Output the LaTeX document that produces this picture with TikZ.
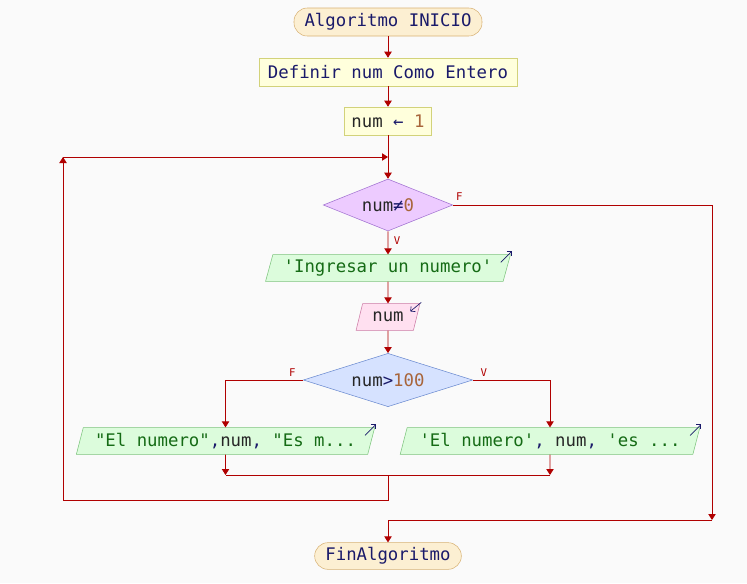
\documentclass[tikz,border=0pt]{standalone}
\usepackage{fontspec}
\setmonofont{DejaVu Sans Mono}
\usetikzlibrary{shapes.geometric,arrows.meta}
\definecolor{flowred}{HTML}{B00000}
\definecolor{kwnavy}{HTML}{1A1A6A}
\definecolor{strgreen}{HTML}{156B15}
\definecolor{numbrown}{HTML}{A8653A}
\definecolor{pillfill}{HTML}{FCEFD2}
\definecolor{pillline}{HTML}{D8B274}
\definecolor{boxfill}{HTML}{FFFFDC}
\definecolor{boxline}{HTML}{D2D27A}
\definecolor{lilafill}{HTML}{EDCBFF}
\definecolor{lilaline}{HTML}{A070D0}
\definecolor{outfill}{HTML}{DCFCDC}
\definecolor{outline}{HTML}{7CC47C}
\definecolor{infill}{HTML}{FFE0F0}
\definecolor{inline}{HTML}{CC7AA5}
\definecolor{bluefill}{HTML}{D6E2FF}
\definecolor{blueline}{HTML}{6A8AD0}
\begin{document}
\begin{tikzpicture}[x=0.75pt,y=-0.75pt,
    every node/.style={font=\ttfamily\fontsize{13}{15}\selectfont,inner sep=0pt},
    flow/.style={draw=flowred,line width=0.65pt},
    tip/.style={-{Triangle[length=4.5pt,width=5.5pt]}},
    pill/.style={draw=pillline,fill=pillfill,rounded corners=10pt,minimum height=21pt},
    procbox/.style={draw=boxline,fill=boxfill,minimum height=21pt},
    decide/.style={diamond,draw=#1line,fill=#1fill,aspect=2.4},
    outbox/.style={trapezium,trapezium left angle=68,trapezium right angle=112,
        trapezium stretches=true,draw=outline,fill=outfill,minimum height=20pt},
    inbox/.style={trapezium,trapezium left angle=68,trapezium right angle=112,
        trapezium stretches=true,draw=inline,fill=infill,minimum height=20pt},
    tag/.style={font=\ttfamily\fontsize{8}{9}\selectfont,text=flowred},
    icon/.style={draw=kwnavy,line width=0.5pt,-{Straight Barb[length=2.5pt]}}]
    \fill[white!98!black] (0,0) rectangle (747,583);
    \useasboundingbox (0,0) rectangle (747,583);
    % nodes
    \node[pill,minimum width=141pt] (start) at (388,22) {\textcolor{kwnavy}{Algoritmo INICIO}};
    \node[procbox,minimum width=193.5pt] (def) at (388,72) {\textcolor{kwnavy}{Definir num Como Entero}};
    \node[procbox,minimum width=65pt] (asg) at (388,121) {\textcolor{black!85}{num} \textcolor{kwnavy}{←} \textcolor{numbrown}{1}};
    \node[decide=lila,minimum width=97pt,minimum height=39pt] (cond) at (388,205) {\textcolor{black!85}{num}\textcolor{kwnavy}{≠}\textcolor{numbrown}{0}};
    \node[outbox,minimum width=184pt] (ask) at (388,268) {\textcolor{strgreen}{'Ingresar un numero'}};
    \node[inbox,minimum width=48pt] (read) at (388,317) {\textcolor{black!85}{num}};
    \node[decide=blue,minimum width=127pt,minimum height=40pt] (test) at (388,380) {\textcolor{black!85}{num}\textcolor{kwnavy}{>}\textcolor{numbrown}{100}};
    \node[outbox,minimum width=224pt] (less) at (225.5,441) {\textcolor{strgreen}{"El numero"}\textcolor{kwnavy}{,}\textcolor{black!85}{num}\textcolor{kwnavy}{,} \textcolor{strgreen}{"Es m...}};
    \node[outbox,minimum width=225pt] (more) at (550,441) {\textcolor{strgreen}{'El numero'}\textcolor{kwnavy}{,} \textcolor{black!85}{num}\textcolor{kwnavy}{,} \textcolor{strgreen}{'es ...}};
    \node[pill,minimum width=110pt,minimum height=20pt] (fin) at (388,556) {\textcolor{kwnavy}{FinAlgoritmo}};
    % io icons
    \draw[icon] ([shift={(-10,8)}]ask.top right corner) -- ([shift={(1,-3)}]ask.top right corner);
    \draw[icon] ([shift={(1,-1)}]read.top right corner) -- ([shift={(-10,8)}]read.top right corner);
    \draw[icon] ([shift={(-10,8)}]less.top right corner) -- ([shift={(1,-3)}]less.top right corner);
    \draw[icon] ([shift={(-10,8)}]more.top right corner) -- ([shift={(1,-3)}]more.top right corner);
    % junctions
    \coordinate (loopin) at (388,157);
    \coordinate (loopup) at (63,157);
    \coordinate (loopdn) at (63,500);
    \coordinate (joinL) at (225.5,475);
    \coordinate (joinR) at (550,475);
    \coordinate (join) at (388,475);
    \coordinate (exitF) at (712,520);
    \coordinate (exitin) at (388,520);
    % connectors
    \draw[flow,tip] (start) -- (def);
    \draw[flow,tip] (def) -- (asg);
    \draw[flow,tip] (asg) -- (cond);
    \draw[flow,tip] (cond) -- node[tag,right,pos=0.4,xshift=4pt] {V} (ask);
    \draw[flow,tip] (ask) -- (read.north);
    \draw[flow,tip] (read.south) -- (test);
    \draw[flow,tip] (test.west) -| node[tag,pos=0.07,above,yshift=2pt] {F} (less.north);
    \draw[flow,tip] (test.east) -| node[tag,pos=0.07,above,yshift=2pt] {V} (more.north);
    \draw[flow,tip] (less.south) -- (joinL);
    \draw[flow,tip] (more.south) -- (joinR);
    \draw[flow] (joinL) -- (joinR);
    \draw[flow,tip] (join) |- (loopdn) -- (loopup);
    \draw[flow,tip] (loopup) -- (loopin);
    \draw[flow,tip] (cond.east) node[tag,above right,xshift=2pt,yshift=3pt] {F} -| (exitF);
    \draw[flow,tip] (exitF) -- (exitin) -- (fin);
\end{tikzpicture}
\end{document}
